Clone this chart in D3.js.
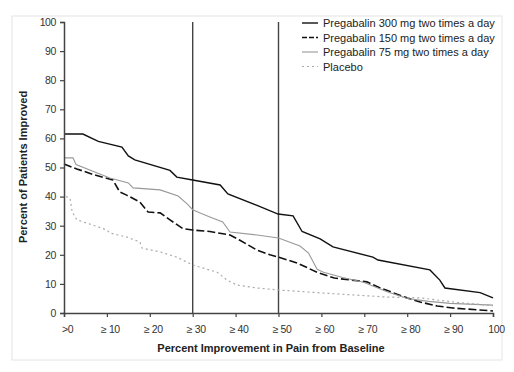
<!DOCTYPE html>
<html>
<head>
<meta charset="utf-8">
<script src="https://cdn.jsdelivr.net/npm/d3@7"></script>
<style>
  body { margin: 0; background: #fff; }
  svg text { font-family: "Liberation Sans", Arial, sans-serif; }
</style>
</head>
<body>
<svg id="chart" width="514" height="372"></svg>
<script>
// values: [percent improvement, percent of patients]
const pg300 = [[0,61.5],[4.4,61.5],[8,59],[13.5,57],[15,54],[16.5,52.6],[24.7,49],[26.3,46.7],[30,45.7],[36.4,44],[38.2,40.9],[45,37],[49.9,34],[53.4,33.4],[55.5,28],[59.7,25.5],[62.7,22.7],[72,19.2],[73.2,18.2],[85.3,14.8],[87.6,11.3],[88.8,8.6],[97,7],[100,5.2]];
const pg150 = [[0,51.2],[3,49.5],[7,47.5],[11.4,45.7],[13,41.6],[14.6,40.5],[17.7,38.1],[19.6,34.7],[22.4,34.4],[24.7,32],[27.7,29],[30,28.5],[34,28],[38.7,26.8],[41,25],[45,21.6],[48,20],[50,19.2],[54.3,17.2],[59,14],[63,12],[70.6,10.7],[73.7,8.6],[80,5.2],[83,3.8],[87,2.4],[90.7,1.7],[100,0.7]];
const pg75 = [[0,53.3],[2.1,53.3],[2.8,51],[10.7,46.4],[15,44.7],[16.1,43],[22.4,42.3],[26.6,40.2],[28.7,37.5],[30,35.5],[32,34.2],[34,33],[37,31.3],[38.7,27.8],[45,26.8],[50,25.8],[55,23],[57,20.6],[59,15],[60.5,14],[65,12.2],[70,10.5],[75,7.5],[80,5],[85,4],[90,3.3],[100,2.7]];
const placebo = [[0.5,40],[1.4,39.5],[1.9,34.7],[3,32],[6.8,30.2],[10,28.5],[10.7,27.5],[14.6,26.1],[17.7,24.4],[18.2,22.3],[22.4,21],[26.3,19.2],[30,16.5],[35.7,14],[38,11.3],[40.3,9.6],[45,8.6],[50,7.9],[60,6.9],[75,5.5],[83,5.2],[90.7,3.8],[100,2.5]];

const seriesNames = ["Pregabalin 300 mg two times a day", "Pregabalin 150 mg two times a day", "Pregabalin 75 mg two times a day", "Placebo"];
const xTicks = [0, 10, 20, 30, 40, 50, 60, 70, 80, 90, 100];
const xTickLabels = [">0", "≥ 10", "≥ 20", "≥ 30", "≥ 40", "≥ 50", "≥ 60", "≥ 70", "≥ 80", "≥ 90", "100"];
const yTicks = [0, 10, 20, 30, 40, 50, 60, 70, 80, 90, 100];
const cutoffs = [30, 50];

const styles = [
  { color: "#111", width: 1.4, dash: null },
  { color: "#111", width: 1.6, dash: "8,3" },
  { color: "#999", width: 1.1, dash: null },
  { color: "#aaa", width: 1.2, dash: "2,3" }
];

const svg = d3.select("#chart");
const x = d3.scaleLinear().domain([0, 100]).range([64, 493]);
const y = d3.scaleLinear().domain([0, 100]).range([313, 22]);

// faint outer frame
svg.append("rect")
  .attr("x", 12).attr("y", 16).attr("width", 490).attr("height", 344)
  .attr("fill", "none").attr("stroke", "#e4e4e4");

// reference lines at 30% and 50%
svg.selectAll(".cut").data(cutoffs).enter().append("line")
  .attr("x1", d => x(d)).attr("x2", d => x(d))
  .attr("y1", y(100)).attr("y2", y(0))
  .attr("stroke", "#444").attr("stroke-width", 1.4);

const line = d3.line().x(d => x(d[0])).y(d => y(d[1]));

[pg300, pg150, pg75, placebo].forEach((s, i) => {
  svg.append("path")
    .datum(s)
    .attr("d", line)
    .attr("fill", "none")
    .attr("stroke", styles[i].color)
    .attr("stroke-width", styles[i].width)
    .attr("stroke-dasharray", styles[i].dash);
});

// axes
const yAxis = svg.append("g")
  .attr("transform", `translate(${x(0)},0)`)
  .call(d3.axisLeft(y).tickValues(yTicks).tickSize(4).tickPadding(4));
const xAxis = svg.append("g")
  .attr("transform", `translate(0,${y(0)})`)
  .call(d3.axisBottom(x).tickValues(xTicks).tickSize(4).tickPadding(9)
    .tickFormat((d, i) => xTickLabels[i]));

[yAxis, xAxis].forEach(g => {
  g.select(".domain").attr("stroke", "#444").attr("stroke-width", 1.5);
  g.selectAll(".tick line").attr("stroke", "#444").attr("stroke-width", 1.2);
  g.selectAll("text").attr("fill", "#333").style("font-size", "10.5px")
    .style("font-family", "'Liberation Sans', Arial, sans-serif")
    .style("letter-spacing", "-0.4px");
});
xAxis.selectAll("text").attr("dx", 3);

// axis titles
svg.append("text")
  .attr("x", 271).attr("y", 352)
  .attr("text-anchor", "middle")
  .style("font-size", "11px").style("font-weight", "bold")
  .attr("fill", "#222")
  .text("Percent Improvement in Pain from Baseline");

svg.append("text")
  .attr("transform", "translate(27,167) rotate(-90)")
  .attr("text-anchor", "middle")
  .style("font-size", "11px").style("font-weight", "bold")
  .attr("fill", "#222")
  .text("Percent of Patients Improved");

// legend
const legend = svg.append("g").attr("transform", "translate(302,23)");
seriesNames.forEach((name, i) => {
  const row = legend.append("g").attr("transform", `translate(0,${i * 14.5})`);
  row.append("line")
    .attr("x1", 0).attr("x2", 16)
    .attr("stroke", styles[i].color)
    .attr("stroke-width", styles[i].width)
    .attr("stroke-dasharray", i === 1 ? "5,2" : styles[i].dash);
  row.append("text")
    .attr("x", 21).attr("y", 4)
    .style("font-size", "11px")
    .attr("fill", "#222")
    .text(name);
});
</script>
</body>
</html>
